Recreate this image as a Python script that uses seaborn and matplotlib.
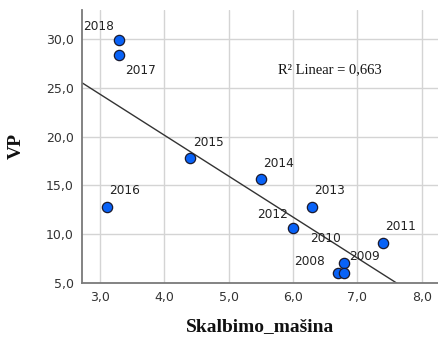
import matplotlib
matplotlib.use("Agg")
import matplotlib.pyplot as plt
import seaborn as sns
import pandas as pd

# Washing machine ownership vs VP, by year
years = ["2018", "2017", "2015", "2016", "2014", "2013", "2012", "2011", "2009", "2008", "2010"]
skalbimo_masina = [3.3, 3.3, 4.4, 3.1, 5.5, 6.3, 6.0, 7.4, 6.8, 6.7, 6.8]
vp = [29.9, 28.4, 17.8, 12.8, 15.6, 12.8, 10.6, 9.1, 7.0, 6.0, 6.0]
x_ticks = [3.0, 4.0, 5.0, 6.0, 7.0, 8.0]
y_ticks = [5.0, 10.0, 15.0, 20.0, 25.0, 30.0]
r2_text = "R\u00b2 Linear = 0,663"

df = pd.DataFrame({"year": years, "x": skalbimo_masina, "y": vp})

# label offsets in points (dx, dy) from each marker
label_offsets = {
    "2018": (-26, 10), "2017": (4, -11.5), "2015": (2, 11), "2016": (2, 11.5),
    "2014": (1.5, 11.5), "2013": (1.5, 11.5), "2012": (-26, 9.5), "2011": (1.5, 12),
    "2009": (3.5, 5), "2008": (-31.5, 8), "2010": (-25, 25),
}

sns.set_style("white", {"axes.spines.top": False, "axes.spines.right": False})
fig = plt.figure(figsize=(4.39, 3.46), dpi=100)
ax = fig.add_axes([0.187, 0.183, 0.813, 0.788])

ax.set_xlim(2.72, 8.27)
ax.set_ylim(5.0, 33.0)

sns.regplot(data=df, x="x", y="y", scatter=False, ci=None, truncate=False,
            line_kws={"color": "#333333", "linewidth": 1.0}, ax=ax)
sns.scatterplot(data=df, x="x", y="y", s=55, color="#0862f7",
                edgecolor="#1a1a2e", linewidth=0.9, zorder=5, ax=ax)

ax.set_xlim(2.72, 8.27)
ax.set_ylim(5.0, 33.0)

for yr, xv, yv in zip(years, skalbimo_masina, vp):
    dx, dy = label_offsets[yr]
    ax.annotate(yr, (xv, yv), xytext=(dx, dy), textcoords="offset points",
                ha="left", va="center", fontsize=8.7, color="#222222",
                family="DejaVu Sans")

ax.text(0.548, 0.78, r2_text, transform=ax.transAxes, ha="left", va="center",
        fontsize=10.5, family="Liberation Serif", color="#111111")

ax.set_xticks(x_ticks)
ax.set_yticks(y_ticks)
ax.set_xticklabels([f"{v:.1f}".replace(".", ",") for v in x_ticks])
ax.set_yticklabels([f"{v:.1f}".replace(".", ",") for v in y_ticks])
ax.tick_params(length=0, labelsize=9, colors="#333333", pad=6)
for lbl in ax.get_xticklabels() + ax.get_yticklabels():
    lbl.set_family("DejaVu Sans")

ax.grid(True, color="#d4d4d4", linewidth=1.0)
ax.set_axisbelow(True)
sns.despine(ax=ax, top=True, right=True)
for side in ["left", "bottom"]:
    ax.spines[side].set_color("#7a7a7a")
    ax.spines[side].set_linewidth(1.3)

ax.set_xlabel("Skalbimo_mašina", fontsize=14, fontweight="bold",
              family="Liberation Serif", color="#111111", labelpad=10)
ax.set_ylabel("VP", fontsize=14, fontweight="bold",
              family="Liberation Serif", color="#111111", labelpad=15)

fig.savefig("out.png", dpi=100)
